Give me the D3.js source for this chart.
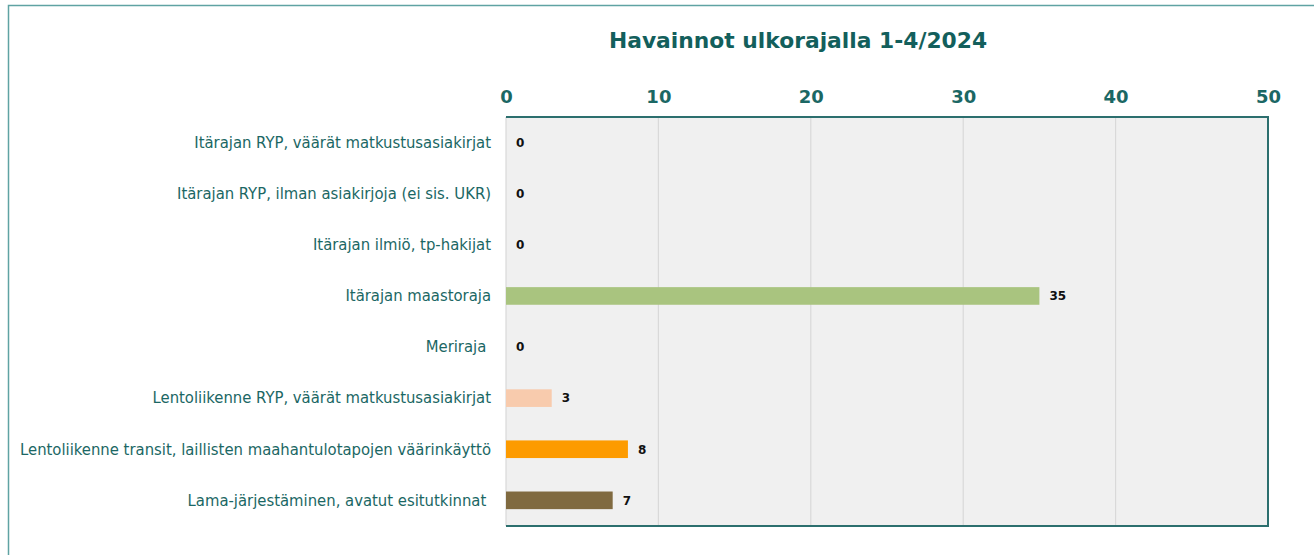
<!DOCTYPE html>
<html>
<head>
<meta charset="utf-8">
<script src="https://cdn.jsdelivr.net/npm/d3@7"></script>
<style>
  body { margin: 0; background: #ffffff; }
  svg text { white-space: pre; }
</style>
</head>
<body>
<svg id="chart" width="1314" height="555"></svg>
<script>
// data
let categories = [
    "Itärajan RYP, väärät matkustusasiakirjat",
    "Itärajan RYP, ilman asiakirjoja (ei sis. UKR)",
    "Itärajan ilmiö, tp-hakijat",
    "Itärajan maastoraja",
    "Meriraja ",
    "Lentoliikenne RYP, väärät matkustusasiakirjat",
    "Lentoliikenne transit, laillisten maahantulotapojen väärinkäyttö",
    "Lama-järjestäminen, avatut esitutkinnat "
];
let values = [0, 0, 0, 35, 0, 3, 8, 7];
let barColors = ["#4f81bd", "#c0504d", "#9bbb59", "#a9c47f", "#4bacc6", "#f8cbad", "#fd9b00", "#806a40"];
let xTicks = [0, 10, 20, 30, 40, 50];
let title = "Havainnot ulkorajalla 1-4/2024";

let svg = d3.select('#chart');
let svgWidth = +svg.attr('width');
let svgHeight = +svg.attr('height');
let padding = {t: 117, r: 46, b: 29, l: 506};
let chartWidth = svgWidth - padding.l - padding.r;
let chartHeight = svgHeight - padding.t - padding.b;

let teal = "#1b6764";

// outer frame
svg.append("rect")
    .attr("x", 8.5).attr("y", 5.5)
    .attr("width", svgWidth).attr("height", svgHeight)
    .attr("fill", "white")
    .attr("stroke", "#5fa3a3")
    .attr("stroke-width", 1.5);

let x = d3.scaleLinear().domain([0, 50]).range([0, chartWidth]);
let y = d3.scaleBand().domain(categories).range([0, chartHeight]).paddingInner(0.655).paddingOuter(0.33);

let g = svg.append("g")
    .attr("transform", "translate(" + padding.l + "," + padding.t + ")");

g.append("rect")
    .attr("width", chartWidth).attr("height", chartHeight)
    .attr("fill", "#f0f0f0");

// vertical grid
g.selectAll("line.grid")
    .data(xTicks)
    .enter()
    .append("line")
    .attr("class", "grid")
    .attr("x1", d => x(d)).attr("x2", d => x(d))
    .attr("y1", 0).attr("y2", chartHeight)
    .attr("stroke", "#d9d9d9")
    .attr("stroke-width", 1.2);

// frame of plot: top, right, bottom teal
g.append("path")
    .attr("d", "M0,0H" + chartWidth + "V" + chartHeight + "H0")
    .attr("fill", "none")
    .attr("stroke", "#2c6f6e")
    .attr("stroke-width", 2);

// top axis
let xAxis = d3.axisTop(x).tickValues(xTicks).tickSize(0).tickPadding(14);
let axisG = g.append("g").call(xAxis);
axisG.select(".domain").remove();
axisG.selectAll("text")
    .attr("fill", teal)
    .attr("font-family", "DejaVu Sans, Verdana, sans-serif")
    .attr("font-weight", "bold")
    .attr("font-size", "18px");

// category labels
let yAxis = d3.axisLeft(y).tickSize(0).tickPadding(15);
let yG = g.append("g").call(yAxis);
yG.select(".domain").remove();
yG.selectAll("text")
    .attr("fill", teal)
    .attr("font-family", "DejaVu Sans Condensed, DejaVu Sans, sans-serif")
    .attr("font-size", "16.5px");

// bars
g.selectAll("rect.bar")
    .data(values)
    .enter()
    .append("rect")
    .attr("class", "bar")
    .attr("x", 0)
    .attr("y", (d, i) => y(categories[i]))
    .attr("width", d => x(d))
    .attr("height", y.bandwidth())
    .attr("fill", (d, i) => barColors[i]);

// value labels
g.selectAll("text.value")
    .data(values)
    .enter()
    .append("text")
    .attr("class", "value")
    .attr("x", d => x(d) + 10)
    .attr("y", (d, i) => y(categories[i]) + y.bandwidth() / 2)
    .attr("dy", "0.36em")
    .attr("fill", "#111")
    .attr("font-family", "DejaVu Sans, Verdana, sans-serif")
    .attr("font-weight", "bold")
    .attr("font-size", "12px")
    .text(d => d);

// title
svg.append("text")
    .attr("x", 798)
    .attr("y", 48)
    .attr("text-anchor", "middle")
    .attr("fill", "#135f5c")
    .attr("font-family", "DejaVu Sans, Verdana, sans-serif")
    .attr("font-weight", "bold")
    .attr("font-size", "21.8px")
    .text(title);
</script>
</body>
</html>
